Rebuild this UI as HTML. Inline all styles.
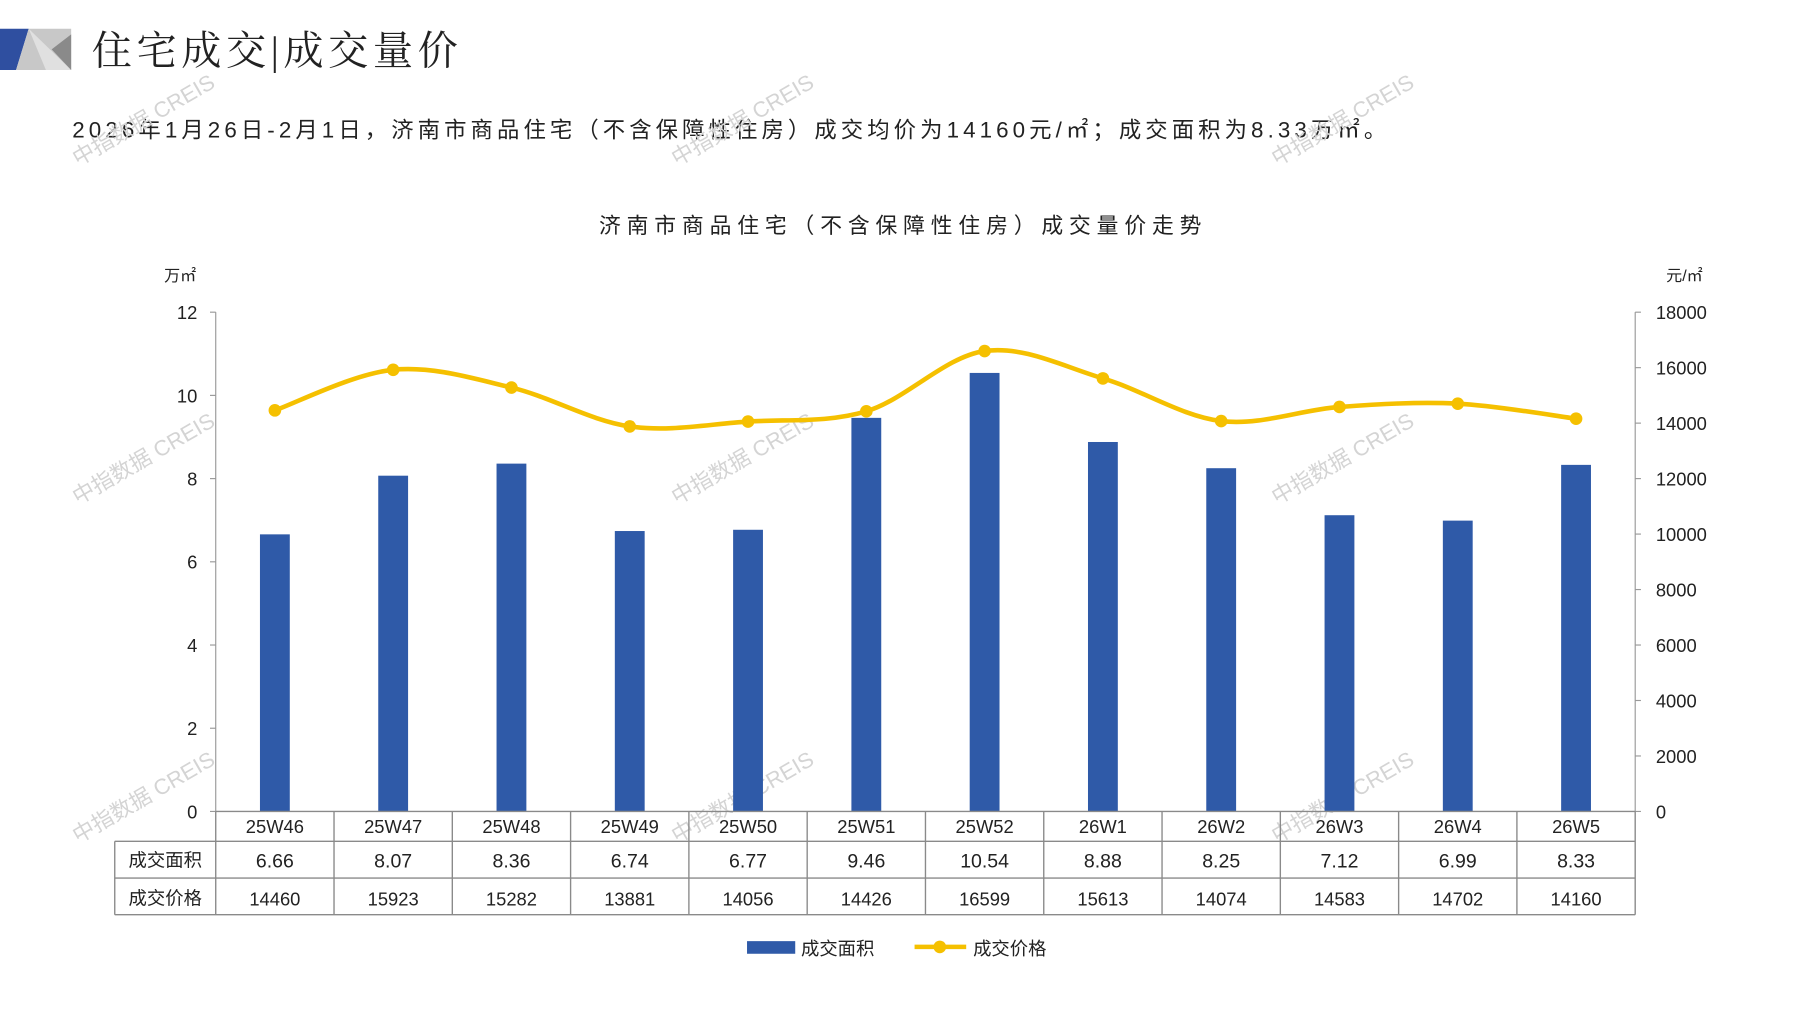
<!DOCTYPE html>
<html><head><meta charset="utf-8"><style>
html,body{margin:0;padding:0;background:#fff;}
svg{display:block;}
text{font-family:"Liberation Sans","Noto Sans CJK SC",sans-serif;fill:#222;}
.s{font-family:"Liberation Serif","Noto Serif CJK SC",serif;}
</style></head><body>
<svg id="c" width="1797" height="1010" viewBox="0 0 1566 880" preserveAspectRatio="none" xmlns="http://www.w3.org/2000/svg">
<rect x="0" y="0" width="1566" height="880" fill="#fff"/>
<polygon points="0,25 25,25 14,61 0,61" fill="#2f4fa0"/>
<polygon points="25,25 62,25 62,61 14,61" fill="#c8c8c8"/>
<polygon points="25,25 62,61 40,61" fill="#e0e0e0"/>
<polygon points="45,43 62,30 62,61" fill="#8a8a8a"/>
<text class="s" x="80" y="56" font-size="35" fill="#111" letter-spacing="4">住宅成交|成交量价</text>
<text x="63" y="120" font-size="19.5" fill="#222" textLength="1145" lengthAdjust="spacing">2026年1月26日-2月1日，济南市商品住宅（不含保障性住房）成交均价为14160元/㎡；成交面积为8.33万㎡。</text>
<text x="522" y="203" font-size="19" fill="#333" textLength="525" lengthAdjust="spacing">济南市商品住宅（不含保障性住房）成交量价走势</text>
<text x="143" y="245" font-size="14">万㎡</text>
<text x="1452" y="245" font-size="14">元/㎡</text>
<g id="wm"></g>
<g id="g"></g>
</svg>
<script>
var g=document.getElementById('g'),h='';
var L=188,R=1425,T=272,B=707,cw=(R-L)/12;
var cats=['25W46','25W47','25W48','25W49','25W50','25W51','25W52','26W1','26W2','26W3','26W4','26W5'];
var area=[6.66,8.07,8.36,6.74,6.77,9.46,10.54,8.88,8.25,7.12,6.99,8.33];
var price=[14460,15923,15282,13881,14056,14426,16599,15613,14074,14583,14702,14160];
h+='<line x1="'+L+'" y1="'+T+'" x2="'+L+'" y2="'+B+'" stroke="#999"/>';
h+='<line x1="'+R+'" y1="'+T+'" x2="'+R+'" y2="'+B+'" stroke="#999"/>';
for(var i=0;i<=6;i++){var y=B-i*(B-T)/6;
h+='<line x1="'+(L-5)+'" y1="'+y+'" x2="'+L+'" y2="'+y+'" stroke="#999"/>';
h+='<text x="172" y="'+(y+6)+'" font-size="16" text-anchor="end">'+(i*2)+'</text>';}
for(var i=0;i<=9;i++){var y=B-i*(B-T)/9;
h+='<line x1="'+R+'" y1="'+y+'" x2="'+(R+5)+'" y2="'+y+'" stroke="#999"/>';
h+='<text x="1443" y="'+(y+6)+'" font-size="16">'+(i*2000)+'</text>';}
var pts=[];
for(var i=0;i<12;i++){var cx=L+cw*(i+0.5),bh=area[i]*(B-T)/12;
h+='<rect x="'+(cx-13)+'" y="'+(B-bh)+'" width="26" height="'+bh+'" fill="#2f5aa8"/>';
pts.push([cx,B-price[i]*(B-T)/18000]);}
var d='M'+pts[0][0]+','+pts[0][1];
for(var i=0;i<11;i++){var p0=pts[Math.max(i-1,0)],p1=pts[i],p2=pts[i+1],p3=pts[Math.min(i+2,11)];
d+=' C'+(p1[0]+(p2[0]-p0[0])/6)+','+(p1[1]+(p2[1]-p0[1])/6)+' '+(p2[0]-(p3[0]-p1[0])/6)+','+(p2[1]-(p3[1]-p1[1])/6)+' '+p2[0]+','+p2[1];}
h+='<path d="'+d+'" fill="none" stroke="#f5c000" stroke-width="4"/>';
pts.forEach(function(p){h+='<circle cx="'+p[0]+'" cy="'+p[1]+'" r="5.5" fill="#f5c000"/>';});
var st='stroke="#8a8a8a" stroke-width="1.2"';
h+='<line x1="'+L+'" y1="'+B+'" x2="'+R+'" y2="'+B+'" '+st+'/>';
[733,765,797].forEach(function(y){h+='<line x1="100" y1="'+y+'" x2="'+R+'" y2="'+y+'" '+st+'/>';});
h+='<line x1="100" y1="733" x2="100" y2="797" '+st+'/>';
for(var i=0;i<=12;i++){var x=L+cw*i;h+='<line x1="'+x+'" y1="'+B+'" x2="'+x+'" y2="797" '+st+'/>';}
h+='<text x="144" y="755" font-size="16" text-anchor="middle">成交面积</text>';
h+='<text x="144" y="788" font-size="16" text-anchor="middle">成交价格</text>';
for(var i=0;i<12;i++){var cx=L+cw*(i+0.5);
h+='<text x="'+cx+'" y="726" font-size="16" text-anchor="middle">'+cats[i]+'</text>';
h+='<text x="'+cx+'" y="756" font-size="17" text-anchor="middle">'+area[i].toFixed(2)+'</text>';
h+='<text x="'+cx+'" y="789" font-size="16" text-anchor="middle">'+price[i]+'</text>';}
h+='<rect x="651" y="820" width="42" height="11" fill="#2f5aa8"/>';
h+='<text x="698" y="832" font-size="16">成交面积</text>';
h+='<line x1="797" y1="825" x2="842" y2="825" stroke="#f5c000" stroke-width="4"/><circle cx="819" cy="825" r="5.5" fill="#f5c000"/>';
h+='<text x="848" y="832" font-size="16">成交价格</text>';
g.innerHTML=h;
var w='';
[68,590,1113].forEach(function(x){[145,440,735].forEach(function(y){
w+='<text x="'+x+'" y="'+y+'" transform="rotate(-30 '+x+' '+y+')" style="fill:#d4d4d4" font-size="19">中指数据 CREIS</text>';});});
document.getElementById('wm').innerHTML=w;
</script>
</body></html>
